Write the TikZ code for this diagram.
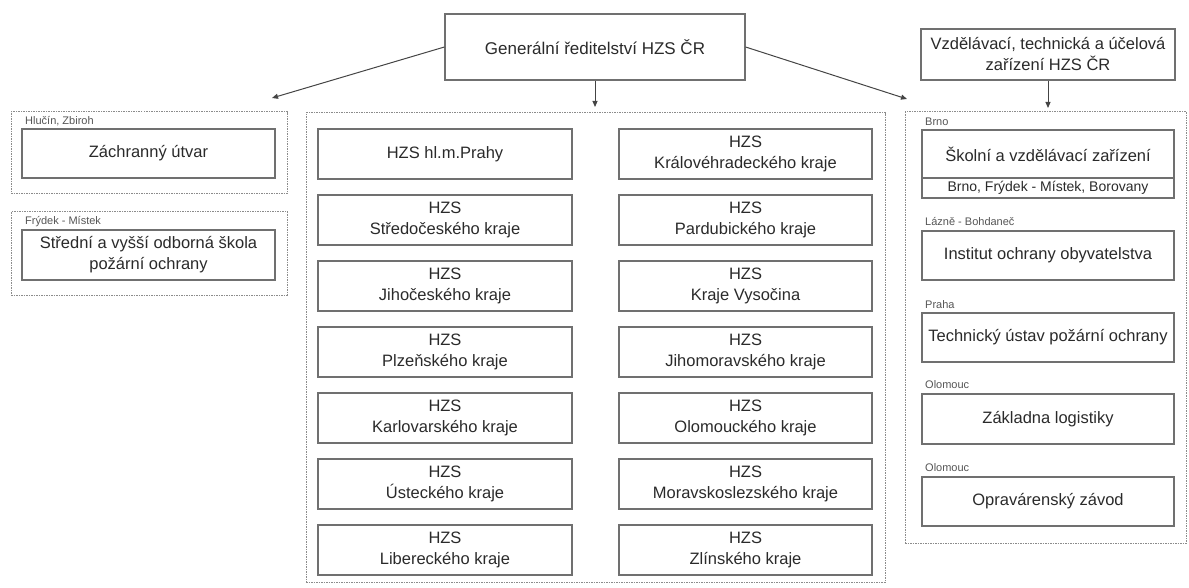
\documentclass[tikz,border=0pt]{standalone}
\usepackage{fontspec}
\setmainfont{Liberation Sans}
\usetikzlibrary{arrows.meta}
\definecolor{boxgray}{HTML}{707070}
\definecolor{txt}{HTML}{2A2A2A}
\definecolor{dotgray}{HTML}{8C8C8C}
\definecolor{lblgray}{HTML}{555555}
\definecolor{arrgray}{HTML}{444444}
\newcommand\fsz[2]{\fontsize{#1pt}{#2pt}\selectfont}
\begin{document}
\begin{tikzpicture}[x=1pt,y=-1pt,
  box/.style={draw=boxgray, line width=1.2pt, rectangle, inner sep=0pt, align=center,
              font=\fsz{16.5}{21}, text=txt},
  cont/.style={draw=dotgray, line width=1pt, dash pattern=on 1.5pt off 1pt, rectangle, inner sep=0pt},
  lbl/.style={anchor=west, font=\fsz{11}{13}, text=lblgray, inner sep=0pt},
  arr/.style={-{Triangle[length=6pt,width=5pt]}, draw=arrgray, line width=1pt}]
\useasboundingbox (0,0) rectangle (1189,588);

% containers
\node[cont, minimum width=276pt, minimum height=82pt] (c1) at (149,153) {};
\node[cont, minimum width=276pt, minimum height=83pt] (c2) at (149,253.5) {};
\node[cont, minimum width=579pt, minimum height=469pt] (cc) at (595.5,347.5) {};
\node[cont, minimum width=281pt, minimum height=431pt] (cr) at (1045.5,327.5) {};

% top boxes
\node[box, minimum width=300pt, minimum height=66pt, font=\fsz{17}{21}] (gen) at (595,47) {Generální ředitelství HZS ČR};
\node[box, minimum width=254pt, minimum height=51pt] (vtu) at (1048,54.5) {Vzdělávací, technická a účelová\\zařízení HZS ČR};

% left column
\node[lbl] (l1) at (25,121) {Hlučín, Zbiroh};
\node[box, minimum width=253pt, minimum height=49pt] (zu) at (148.5,153.5) {Záchranný útvar};
\node[lbl] (l2) at (25,222) {Frýdek - Místek};
\node[box, minimum width=253pt, minimum height=50pt] (sos) at (148.5,255) {Střední a vyšší odborná škola\\požární ochrany};

% central regions
\node[box, minimum width=254pt, minimum height=50pt] (r1) at (445,154) {HZS hl.m.Prahy};
\node[box, minimum width=254pt, minimum height=50pt] (r2) at (445,220) {HZS\\Středočeského kraje};
\node[box, minimum width=254pt, minimum height=50pt] (r3) at (445,286) {HZS\\Jihočeského kraje};
\node[box, minimum width=254pt, minimum height=50pt] (r4) at (445,352) {HZS\\Plzeňského kraje};
\node[box, minimum width=254pt, minimum height=50pt] (r5) at (445,418) {HZS\\Karlovarského kraje};
\node[box, minimum width=254pt, minimum height=50pt] (r6) at (445,484) {HZS\\Ústeckého kraje};
\node[box, minimum width=254pt, minimum height=50pt] (r7) at (445,550) {HZS\\Libereckého kraje};
\node[box, minimum width=253pt, minimum height=50pt] (s1) at (745.5,154) {HZS\\Královéhradeckého kraje};
\node[box, minimum width=253pt, minimum height=50pt] (s2) at (745.5,220) {HZS\\Pardubického kraje};
\node[box, minimum width=253pt, minimum height=50pt] (s3) at (745.5,286) {HZS\\Kraje Vysočina};
\node[box, minimum width=253pt, minimum height=50pt] (s4) at (745.5,352) {HZS\\Jihomoravského kraje};
\node[box, minimum width=253pt, minimum height=50pt] (s5) at (745.5,418) {HZS\\Olomouckého kraje};
\node[box, minimum width=253pt, minimum height=50pt] (s6) at (745.5,484) {HZS\\Moravskoslezského kraje};
\node[box, minimum width=253pt, minimum height=50pt] (s7) at (745.5,550) {HZS\\Zlínského kraje};

% right column
\node[lbl] (lb1) at (925,122) {Brno};
\node[box, minimum width=252pt, minimum height=48pt] (skol) at (1048,154) {Školní a vzdělávací zařízení};
\node[box, minimum width=252pt, minimum height=20pt, font=\fsz{14}{16}] (skolsub) at (1048,188) {Brno, Frýdek - Místek, Borovany};
\node[lbl] (lb2) at (925,222) {Lázně - Bohdaneč};
\node[box, minimum width=252pt, minimum height=49pt] (ioo) at (1048,255.5) {Institut ochrany obyvatelstva};
\node[lbl] (lb3) at (925,305) {Praha};
\node[box, minimum width=252pt, minimum height=49pt] (tupo) at (1048,337.5) {Technický ústav požární ochrany};
\node[lbl] (lb4) at (925,385) {Olomouc};
\node[box, minimum width=252pt, minimum height=50pt] (zl) at (1048,419) {Základna logistiky};
\node[lbl] (lb5) at (925,468) {Olomouc};
\node[box, minimum width=252pt, minimum height=49pt] (oz) at (1048,501.5) {Opravárenský závod};

% connectors
\coordinate (aL) at (272,98);
\coordinate (aR) at (907,99);
\coordinate (aC) at (595,107);
\coordinate (aV) at (1048,108);
\draw[arr] (gen.west) -- (aL);
\draw[arr] (gen.east) -- (aR);
\draw[arr] (gen.south) -- (aC);
\draw[arr] (vtu.south) -- (aV);
\end{tikzpicture}
\end{document}
